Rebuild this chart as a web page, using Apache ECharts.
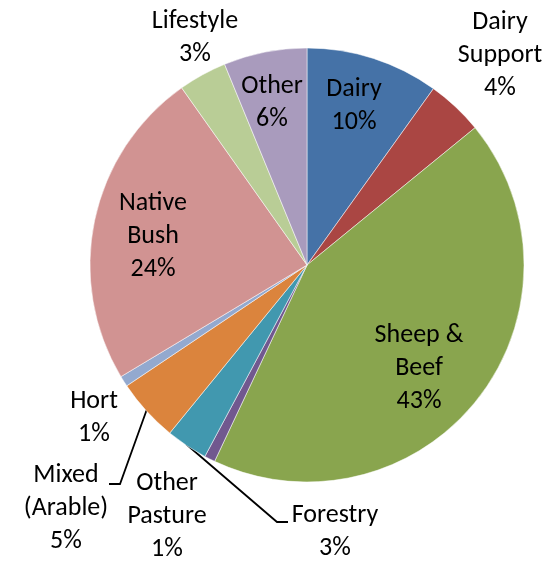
<!doctype html>
<html>
<head>
	<meta charset="utf-8">
	<title>Land use</title>
	<script src="https://cdn.jsdelivr.net/npm/echarts@6/dist/echarts.min.js"></script>
	<style>
		html, body {margin:0;padding:0;background:#fff;}
		#main {width:559px;height:563px;}
	</style>
</head>
<body>
	<div id="main"></div>
</body>
<script>
	"use strict";
	// slices clockwise from 12 o'clock
	var names = ['Dairy', 'Dairy\nSupport', 'Sheep &\nBeef', 'Other\nPasture', 'Forestry',
		'Mixed\n(Arable)', 'Hort', 'Native\nBush', 'Lifestyle', 'Other'];
	var values = [9.9, 4.2, 42.9, 0.8, 3.1, 4.7, 0.8, 23.8, 3.6, 6.2];
	var pctLabels = ['10%', '4%', '43%', '1%', '3%', '5%', '1%', '24%', '3%', '6%'];
	var colors = ['#4572A7', '#AA4643', '#89A54E', '#71588F', '#4198AF',
		'#DB843D', '#93A9CF', '#D19392', '#B9CD96', '#A99BBD'];

	// label centres and leader lines (layout only)
	var labelPos = [
		[354, 106], [500, 55], [419, 368], [167, 516], [335, 532],
		[66, 508], [94, 418], [153, 236], [195, 38], [272, 103]
	];
	var leaders = {
		4: [[186, 444], [277, 522], [288, 522]],
		5: [[147, 409], [120, 484], [109, 484]]
	};

	var seriesData = [];
	for (let i = 0; i < names.length; i++) {
		seriesData.push({
			name: names[i],
			value: values[i],
			itemStyle: {color: colors[i]},
			labelLine: {show: !!leaders[i]}
		});
	}

	var myChart = echarts.init(document.getElementById("main"));
	myChart.setOption({
		animation: false,
		series: [{
			type: 'pie',
			center: [307, 265],
			radius: 217,
			startAngle: 90,
			clockwise: true,
			data: seriesData,
			itemStyle: {borderColor: '#fff', borderWidth: 0.5},
			emphasis: {disabled: true},
			label: {
				show: true,
				position: 'outside',
				fontFamily: 'Carlito, Calibri, Lato, sans-serif',
				fontSize: 26,
				lineHeight: 33,
				color: '#000',
				align: 'center',
				overflow: 'none',
				formatter: function (p) {
					return p.name + '\n' + pctLabels[p.dataIndex];
				}
			},
			labelLine: {
				lineStyle: {color: '#000', width: 1.8}
			},
			labelLayout: function (p) {
				var i = p.dataIndex;
				var out = {
					x: labelPos[i][0],
					y: labelPos[i][1],
					align: 'center',
					verticalAlign: 'middle',
					width: 200
				};
				if (leaders[i]) out.labelLinePoints = leaders[i];
				return out;
			}
		}]
	});
</script>
</html>
